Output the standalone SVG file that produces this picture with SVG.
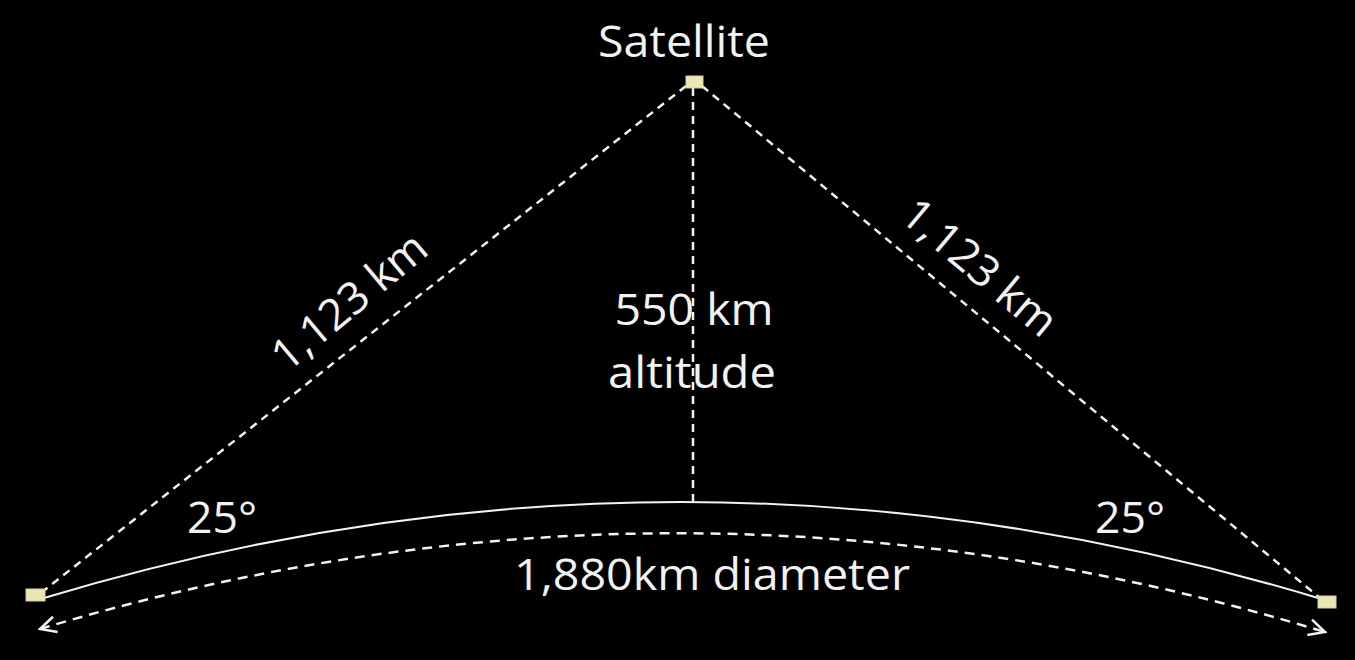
<svg xmlns="http://www.w3.org/2000/svg" width="1355" height="660" viewBox="0 0 1355 660">
<style>
.t{font-family:"Open Sans","DejaVu Sans",sans-serif;fill:#f2f2f2;font-size:44px}
.d{stroke:#f2f2f2;stroke-width:2.5;fill:none;stroke-dasharray:8 6}
.s{stroke:#f2f2f2;stroke-width:2;fill:none}
.n{fill:#ece6b4;stroke:#d8d2a0;stroke-width:1}
</style>
<defs>
<marker id="ah" viewBox="0 0 20 20" refX="18" refY="10" markerWidth="20" markerHeight="20" markerUnits="userSpaceOnUse" orient="auto-start-reverse">
<path d="M2,2 L18,10 L2,18" fill="none" stroke="#f2f2f2" stroke-width="2.5"/>
</marker>
</defs>
<rect width="1355" height="660" fill="#000"/>
<g id="connectors">
<line class="d" x1="686" y1="86" x2="42" y2="592"/>
<line class="d" x1="702" y1="86" x2="1320" y2="598"/>
<line class="d" x1="693" y1="88" x2="693" y2="502"/>
<path class="s" d="M44,598 Q681,406 1318,598"/>
<path class="d" d="M40,629 Q682,436 1325,632" marker-start="url(#ah)" marker-end="url(#ah)" style="stroke-dasharray:10 7"/>
</g>
<g id="satellite">
<rect class="n" x="686" y="76" width="17" height="12"/>
<text class="t" x="684" y="57" text-anchor="middle" textLength="172" lengthAdjust="spacingAndGlyphs">Satellite</text>
</g>
<g id="ground-left">
<rect class="n" x="26" y="589" width="19" height="12"/>
</g>
<g id="ground-right">
<rect class="n" x="1318" y="596" width="18" height="12"/>
</g>
<g id="labels">
<text class="t" x="694" y="325" text-anchor="middle" textLength="159" lengthAdjust="spacingAndGlyphs">550 km</text>
<text class="t" x="692" y="388" text-anchor="middle" textLength="168" lengthAdjust="spacingAndGlyphs">altitude</text>
<text class="t" x="222" y="533" text-anchor="middle" textLength="70" lengthAdjust="spacingAndGlyphs">25°</text>
<text class="t" x="1130" y="533" text-anchor="middle" textLength="70" lengthAdjust="spacingAndGlyphs">25°</text>
<text class="t" x="712" y="590" text-anchor="middle" textLength="396" lengthAdjust="spacingAndGlyphs">1,880km diameter</text>
<text class="t" x="0" y="0" text-anchor="middle" transform="translate(359,313) rotate(-40)">1,123 km</text>
<text class="t" x="0" y="0" text-anchor="middle" transform="translate(970,279) rotate(40)">1,123 km</text>
</g>
</svg>
